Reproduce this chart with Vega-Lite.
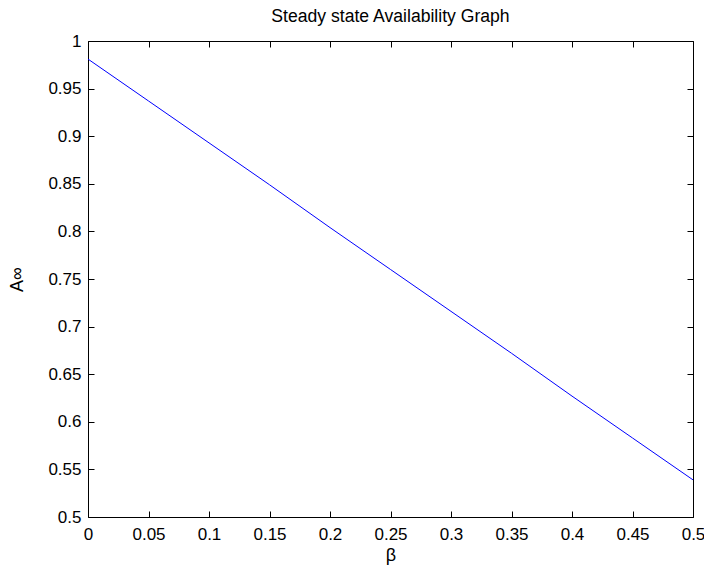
{
  "$schema": "https://vega.github.io/schema/vega-lite/v6.json",
  "width": 605,
  "height": 476,
  "autosize": "none",
  "padding": {"left": 88, "top": 41, "right": 11, "bottom": 49},
  "background": "white",
  "title": {"text": "Steady state Availability Graph", "font": "Liberation Sans", "fontSize": 17.6, "fontWeight": "normal", "color": "black", "offset": 6},
  "config": {
    "view": {"stroke": "black", "strokeWidth": 1},
    "axis": {"domain": false, "grid": false, "ticks": true, "tickColor": "black", "tickSize": -6, "labelFont": "Liberation Sans", "labelFontSize": 17, "labelColor": "black", "titleFont": "Liberation Sans", "titleFontSize": 18, "titleFontWeight": "normal", "titleColor": "black"}
  },
  "data": {"values": [
    {"beta": 0.0, "A": 0.981},
    {"beta": 0.05, "A": 0.937},
    {"beta": 0.1, "A": 0.893},
    {"beta": 0.15, "A": 0.849},
    {"beta": 0.2, "A": 0.804},
    {"beta": 0.25, "A": 0.760},
    {"beta": 0.3, "A": 0.716},
    {"beta": 0.35, "A": 0.672},
    {"beta": 0.4, "A": 0.627},
    {"beta": 0.45, "A": 0.583},
    {"beta": 0.5, "A": 0.539}
  ]},
  "layer": [
    {
      "mark": {"type": "line", "color": "#0000ff", "strokeWidth": 1},
      "encoding": {
        "x": {"field": "beta", "type": "quantitative", "scale": {"domain": [0, 0.5], "nice": false, "zero": false},
              "axis": {"orient": "bottom", "values": [0, 0.05, 0.1, 0.15, 0.2, 0.25, 0.3, 0.35, 0.4, 0.45, 0.5], "format": "~g", "title": "β", "labelPadding": 15, "titleY": 29, "labelFlush": false}},
        "y": {"field": "A", "type": "quantitative", "scale": {"domain": [0.5, 1], "nice": false, "zero": false},
              "axis": {"orient": "left", "values": [0.5, 0.55, 0.6, 0.65, 0.7, 0.75, 0.8, 0.85, 0.9, 0.95, 1], "format": "~g", "title": "A∞", "labelPadding": 13, "titleX": -62, "labelFlush": false}}
      }
    },
    {
      "mark": {"type": "line", "opacity": 0},
      "encoding": {
        "x": {"field": "beta", "type": "quantitative", "scale": {"domain": [0, 0.5], "nice": false, "zero": false},
              "axis": {"orient": "top", "values": [0, 0.05, 0.1, 0.15, 0.2, 0.25, 0.3, 0.35, 0.4, 0.45, 0.5], "labels": false, "title": null}},
        "y": {"field": "A", "type": "quantitative", "scale": {"domain": [0.5, 1], "nice": false, "zero": false},
              "axis": {"orient": "right", "values": [0.5, 0.55, 0.6, 0.65, 0.7, 0.75, 0.8, 0.85, 0.9, 0.95, 1], "labels": false, "title": null}}
      }
    }
  ],
  "resolve": {"axis": {"x": "independent", "y": "independent"}}
}
